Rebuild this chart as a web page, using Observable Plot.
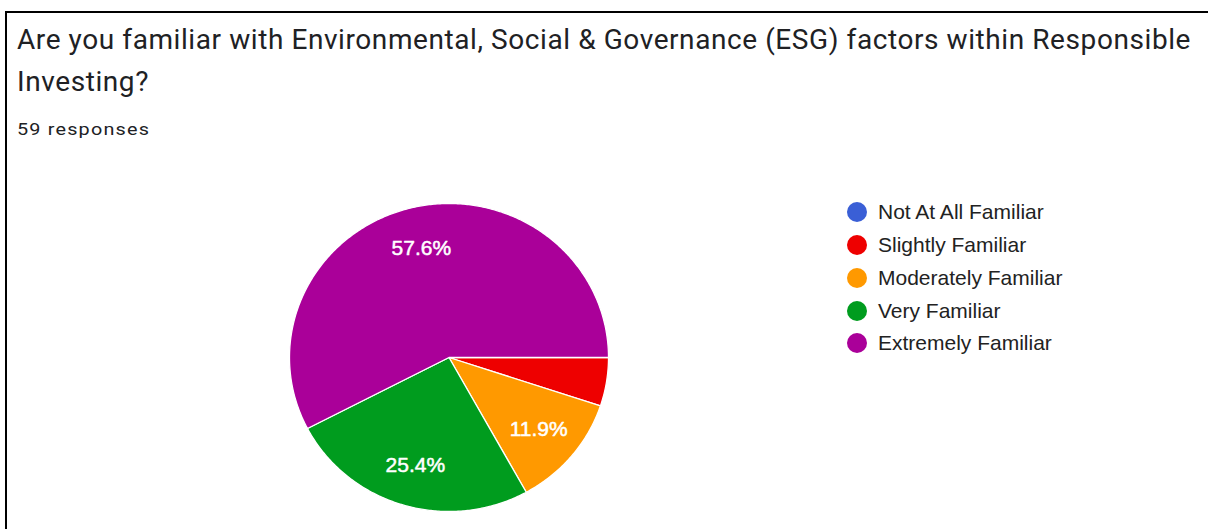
<!DOCTYPE html>
<html><head><meta charset="utf-8">
<script src="https://cdn.jsdelivr.net/npm/d3@7"></script>
<script src="https://cdn.jsdelivr.net/npm/@observablehq/plot@0.6"></script>
<style>
html,body{margin:0;padding:0;background:#fff;width:1208px;height:529px;overflow:hidden;position:relative;}
#frame{position:absolute;left:5px;top:11px;width:1230px;height:540px;border-left:2px solid #000;border-top:2px solid #000;box-sizing:border-box;}
#title{position:absolute;left:17px;top:18.5px;font-family:Roboto,sans-serif;font-size:28px;line-height:42px;color:#202124;white-space:nowrap;letter-spacing:0.58px;}
#sub{position:absolute;left:17px;top:120px;font-family:Roboto,sans-serif;font-size:16.5px;color:#202124;letter-spacing:1px;white-space:nowrap;transform:scaleX(1.2);transform-origin:0 0;}
#chart{position:absolute;left:0;top:170px;}
#legend{position:absolute;left:847px;top:196px;font-family:"Liberation Sans",Arial,sans-serif;font-size:21px;color:#222;}
.row{height:32.75px;display:flex;align-items:center;white-space:nowrap;}
.sw{width:20px;height:20px;border-radius:50%;margin-right:11px;flex:none;}
</style></head>
<body>
<div id="frame"></div>
<div id="title"></div>
<div id="sub"></div>
<div id="chart"></div>
<div id="legend"></div>
<script>
const titleLines = ["Are you familiar with Environmental, Social & Governance (ESG) factors within Responsible", "Investing?"];
const subtitle = "59 responses";
const categories = ["Not At All Familiar", "Slightly Familiar", "Moderately Familiar", "Very Familiar", "Extremely Familiar"];
const counts = [0, 3, 7, 15, 34];
const colors = ["#3a5fd6", "#ee0000", "#ff9900", "#009c1e", "#aa0099"];

document.getElementById("title").innerHTML = titleLines.map(t => t.replace(/&/g, "&amp;")).join("<br>");
document.getElementById("sub").textContent = subtitle;

const total = d3.sum(counts);
const arcs = d3.pie().sort(null).startAngle(Math.PI / 2).endAngle(Math.PI / 2 + 2 * Math.PI)(counts);

const pts = [];
const labels = [];
arcs.forEach((a, i) => {
  if (a.value <= 0) return;
  const cat = categories[i];
  pts.push({cat, x: 0, y: 0});
  const n = Math.max(2, Math.ceil((a.endAngle - a.startAngle) / 0.01));
  for (let k = 0; k <= n; k++) {
    const t = a.startAngle + (a.endAngle - a.startAngle) * k / n;
    pts.push({cat, x: Math.sin(t), y: Math.cos(t)});
  }
  const share = a.value / total;
  if (share > 0.06) {
    const m = (a.startAngle + a.endAngle) / 2;
    labels.push({cat, x: 0.73 * Math.sin(m), y: 0.73 * Math.cos(m), text: (share * 100).toFixed(1) + "%"});
  }
});

const plot = Plot.plot({
  width: 1208,
  height: 359,
  marginLeft: 289,
  marginRight: 600,
  marginTop: 33,
  marginBottom: 18,
  style: {background: "transparent", overflow: "visible"},
  x: {domain: [-1, 1], axis: null},
  y: {domain: [-1, 1], axis: null},
  color: {domain: categories, range: colors},
  marks: [
    Plot.line(pts, {x: "x", y: "y", z: "cat", fill: "cat", stroke: "white", strokeWidth: 1.3, strokeLinejoin: "round", curve: "linear-closed"}),
    Plot.text(labels, {x: "x", y: "y", text: "text", fill: "white", stroke: "white", strokeWidth: 0.5, fontSize: 21, fontFamily: "Liberation Sans, Arial, sans-serif"})
  ]
});
document.getElementById("chart").appendChild(plot);

const lg = document.getElementById("legend");
categories.forEach((c, i) => {
  const row = document.createElement("div");
  row.className = "row";
  const sw = document.createElement("div");
  sw.className = "sw";
  sw.style.background = plot.scale("color").apply(c);
  const tx = document.createElement("span");
  tx.textContent = c;
  row.appendChild(sw);
  row.appendChild(tx);
  lg.appendChild(row);
});
</script>
</body></html>
